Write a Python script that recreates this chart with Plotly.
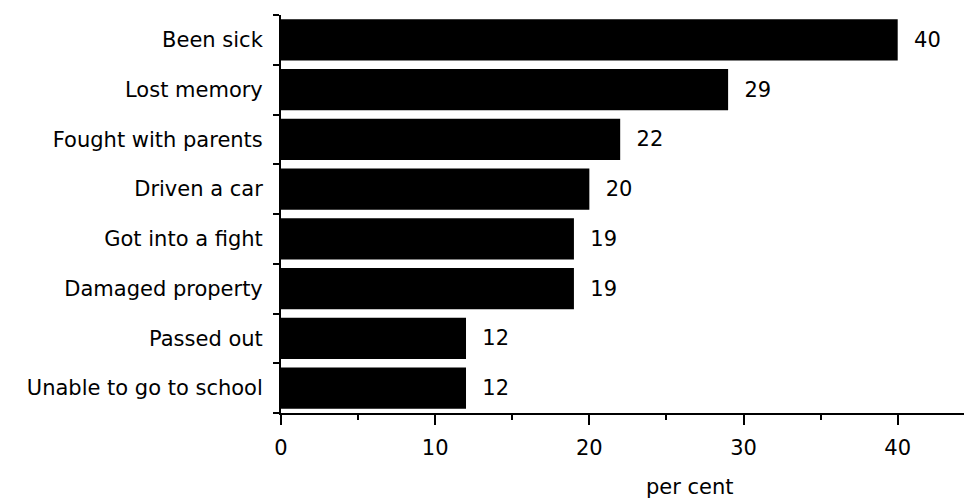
import plotly.graph_objects as go

categories = ["Been sick", "Lost memory", "Fought with parents", "Driven a car",
              "Got into a fight", "Damaged property", "Passed out", "Unable to go to school"]
values = [40, 29, 22, 20, 19, 19, 12, 12]
x_ticks = [0, 10, 20, 30, 40]
x_title = "per cent"

FONT = "DejaVu Sans"
FS = 21

fig = go.Figure()
fig.add_trace(go.Bar(
    y=categories, x=values, orientation="h",
    marker=dict(color="black", line=dict(width=0)),
    text=[f"  {v}" for v in values], textposition="outside",
    textfont=dict(family=FONT, size=FS, color="black"),
    cliponaxis=False,
))

fig.update_layout(
    width=964, height=498,
    margin=dict(l=281, r=0, t=15, b=85),
    paper_bgcolor="white", plot_bgcolor="white",
    bargap=0.17,
    showlegend=False,
    font=dict(family=FONT, size=FS, color="black"),
)
fig.update_xaxes(
    range=[0, 44.3], tickvals=x_ticks, ticktext=[str(t) for t in x_ticks],
    showgrid=False, zeroline=False,
    showline=True, linecolor="black", linewidth=2,
    ticks="outside", ticklen=10, tickwidth=2, tickcolor="black",
    minor=dict(dtick=5, tick0=0, ticks="outside", ticklen=5, tickwidth=2, tickcolor="black"),
    tickfont=dict(family=FONT, size=FS),
    ticklabelstandoff=5,
)
fig.update_yaxes(
    categoryorder="array", categoryarray=categories[::-1],
    showgrid=False, zeroline=False,
    showline=True, linecolor="black", linewidth=2,
    ticks="outside", tickson="boundaries", ticklen=6, tickwidth=2, tickcolor="black",
    tickfont=dict(family=FONT, size=FS),
    ticklabelstandoff=12,
)
fig.add_annotation(
    x=26.5, xref="x", y=0, yref="paper", yshift=-74,
    text=x_title, showarrow=False, yanchor="middle",
    font=dict(family=FONT, size=FS, color="black"),
)

fig.write_html("out.html")
